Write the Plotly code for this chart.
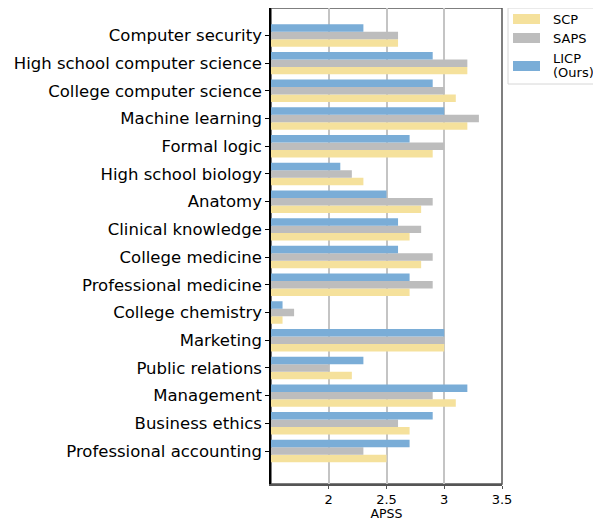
import plotly.graph_objects as go

categories = [
    "Computer security", "High school computer science", "College computer science",
    "Machine learning", "Formal logic", "High school biology", "Anatomy",
    "Clinical knowledge", "College medicine", "Professional medicine",
    "College chemistry", "Marketing", "Public relations", "Management",
    "Business ethics", "Professional accounting",
]
scp = [2.6, 3.2, 3.1, 3.2, 2.9, 2.3, 2.8, 2.7, 2.8, 2.7, 1.6, 3.0, 2.2, 3.1, 2.7, 2.5]
saps = [2.6, 3.2, 3.0, 3.3, 3.0, 2.2, 2.9, 2.8, 2.9, 2.9, 1.7, 3.0, 2.0, 2.9, 2.6, 2.3]
licp = [2.3, 2.9, 2.9, 3.0, 2.7, 2.1, 2.5, 2.6, 2.6, 2.7, 1.6, 3.0, 2.3, 3.2, 2.9, 2.7]
series_names = ["SCP", "SAPS", "LICP (Ours)"]
legend_lines = [["SCP"], ["SAPS"], ["LICP", "(Ours)"]]
colors = ["#F5E19C", "#BDBDBD", "#7AADD7"]
x_ticks = [2, 2.5, 3, 3.5]
x_tick_labels = ["2", "2.5", "3", "3.5"]

FONT = "DejaVu Sans"
fig = go.Figure()
for name, vals, col in zip(series_names, [scp, saps, licp], colors):
    fig.add_trace(go.Bar(
        y=categories, x=vals, name=name, orientation="h",
        marker=dict(color=col, line=dict(width=0)), showlegend=False,
    ))

# page body has an 8px default margin, so the figure is sized 8px smaller.
# Plot area (viewport px): x 271..502, y 8..484
def px(vx):
    return (vx - 271) / 231.0

def py(vy):
    return (484 - vy) / 476.0

shapes = [
    dict(type="rect", xref="paper", yref="paper", x0=0, x1=1, y0=0, y1=1,
         line=dict(color="#555555", width=1.5), layer="below"),
    # legend frame
    dict(type="rect", xref="paper", yref="paper", x0=px(508), x1=px(597),
         y0=py(84), y1=py(8), line=dict(color="#d6d6d6", width=1),
         fillcolor="white", layer="above"),
]
annotations = []
patch_rows = [(14, 24), (33, 43), (61, 71)]
text_rows = [[19.5], [38.5], [58.5, 72.5]]
for col, (y0, y1), lines, ys in zip(colors, patch_rows, legend_lines, text_rows):
    shapes.append(dict(type="rect", xref="paper", yref="paper",
                       x0=px(513), x1=px(540), y0=py(y1), y1=py(y0),
                       line=dict(width=0), fillcolor=col, layer="above"))
    for t, yy in zip(lines, ys):
        annotations.append(dict(text=t, xref="paper", yref="paper", x=px(551), y=py(yy),
                                xanchor="left", yanchor="middle", showarrow=False,
                                font=dict(size=13, family=FONT, color="black")))

fig.update_layout(
    width=593, height=513,
    margin=dict(l=263, r=99, t=0, b=37, autoexpand=False),
    paper_bgcolor="white", plot_bgcolor="white",
    barmode="group", bargap=0.19, bargroupgap=0,
    font=dict(family=FONT, color="black"),
    showlegend=False,
    shapes=shapes, annotations=annotations,
)
fig.update_xaxes(
    range=[1.5, 3.5], tickvals=x_ticks, ticktext=x_tick_labels,
    showgrid=True, gridcolor="#c4c4c4", gridwidth=1.5,
    showline=True, linecolor="#555555", linewidth=1.5,
    ticks="outside", ticklen=3, tickcolor="#555555",
    tickfont=dict(size=13, family=FONT),
    title=dict(text="APSS", font=dict(size=12.5, family=FONT), standoff=0),
    zeroline=False, automargin=False,
)
fig.update_yaxes(
    categoryorder="array", categoryarray=categories[::-1],
    range=[-1.19, 15.99],
    showgrid=False, showline=True, linecolor="black", linewidth=1.5,
    ticks="outside", ticklen=4, tickcolor="black",
    tickfont=dict(size=16.5, family=FONT),
    automargin=False,
)
fig.write_html("out.html")
